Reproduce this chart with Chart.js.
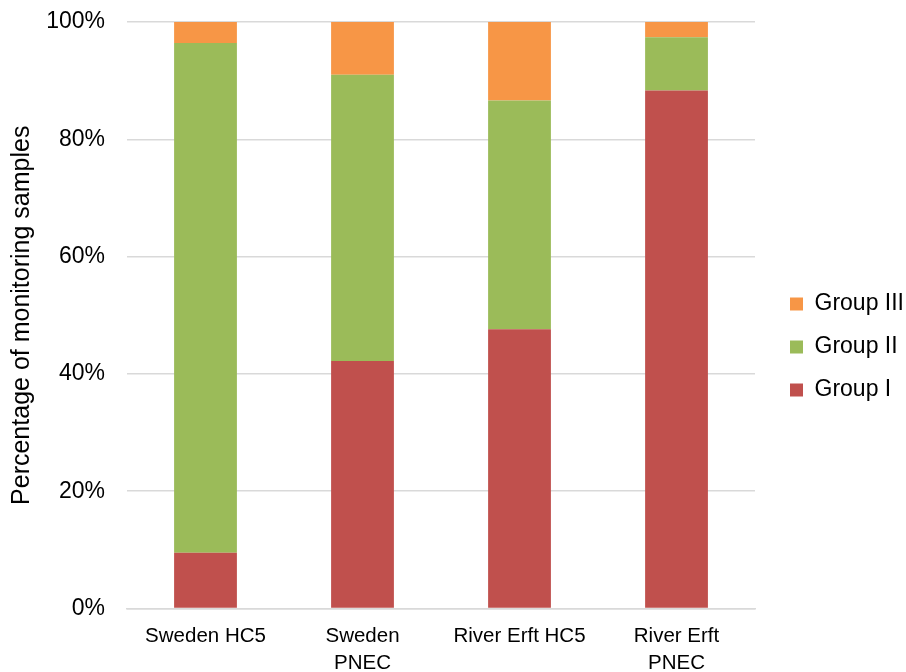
<!DOCTYPE html>
<html>
<head>
<meta charset="utf-8">
<script src="https://cdn.jsdelivr.net/npm/chart.js@4.4.1/dist/chart.umd.min.js"></script>
<style>
  html, body { margin: 0; padding: 0; background: #ffffff; }
  #wrap { width: 906px; height: 672px; position: relative; }
</style>
</head>
<body>
<div id="wrap"><canvas id="chart" width="906" height="672"></canvas></div>
<script>
// Share of monitoring samples per assessment, in percent
const categories = [["Sweden HC5"], ["Sweden", "PNEC"], ["River Erft HC5"], ["River Erft", "PNEC"]];
const groupI   = [9.5, 42.2, 47.6, 88.3];
const groupII  = [86.9, 48.8, 39.0, 9.1];
const groupIII = [3.6, 9.0, 13.4, 2.6];
const yTicks = [0, 20, 40, 60, 80, 100];

const FONT = "'Liberation Sans', Arial, Helvetica, sans-serif";

// Empty layout box that keeps some white space between the plot and the legend
const legendGap = {
  id: 'legendGap',
  beforeInit(chart) {
    const box = {
      position: 'right', weight: 500, fullSize: false, options: {},
      left: 0, top: 0, right: 0, bottom: 0, width: 0, height: 0,
      update(maxWidth, maxHeight) { this.width = 15; this.height = maxHeight; },
      isHorizontal() { return false; },
      draw() {}
    };
    Chart.layouts.addBox(chart, box);
  }
};

new Chart(document.getElementById('chart'), {
  type: 'bar',
  data: {
    labels: categories,
    datasets: [
      { label: 'Group I',   data: groupI,   backgroundColor: '#C0504D' },
      { label: 'Group II',  data: groupII,  backgroundColor: '#9BBB59' },
      { label: 'Group III', data: groupIII, backgroundColor: '#F79646' }
    ]
  },
  plugins: [legendGap],
  options: {
    responsive: false,
    animation: false,
    devicePixelRatio: 1,
    layout: { padding: { top: 22, right: -8, bottom: 0, left: 0 } },
    datasets: { bar: { categoryPercentage: 1.0, barPercentage: 0.4, borderWidth: 0 } },
    scales: {
      x: {
        stacked: true,
        grid: { display: false, drawTicks: false },
        border: { display: true, color: '#d9d9d9', width: 1.5 },
        ticks: { color: '#000', font: { family: FONT, size: 20.5, lineHeight: 1.32 }, padding: 14, maxRotation: 0, autoSkip: false },
        afterFit: s => { s.height = 63.5; }
      },
      y: {
        stacked: true,
        min: 0, max: 100,
        afterBuildTicks: s => { s.ticks = yTicks.map(v => ({ value: v })); },
        grid: { color: '#d9d9d9', lineWidth: 1.5, drawTicks: false },
        border: { display: false },
        ticks: { color: '#000', font: { family: FONT, size: 23 }, padding: 22, callback: v => v + '%' },
        title: { display: true, text: 'Percentage of monitoring samples', color: '#000', font: { family: FONT, size: 25 }, padding: { top: 7, bottom: 0 } },
        afterFit: s => { s.width = 127; s.paddingTop = 0; s.paddingBottom = 0; }
      }
    },
    plugins: {
      legend: {
        position: 'right',
        reverse: true,
        labels: { boxWidth: 13, boxHeight: 13, padding: 20, color: '#000', font: { family: FONT, size: 23 } }
      },
      tooltip: { enabled: false }
    }
  }
});
</script>
</body>
</html>
